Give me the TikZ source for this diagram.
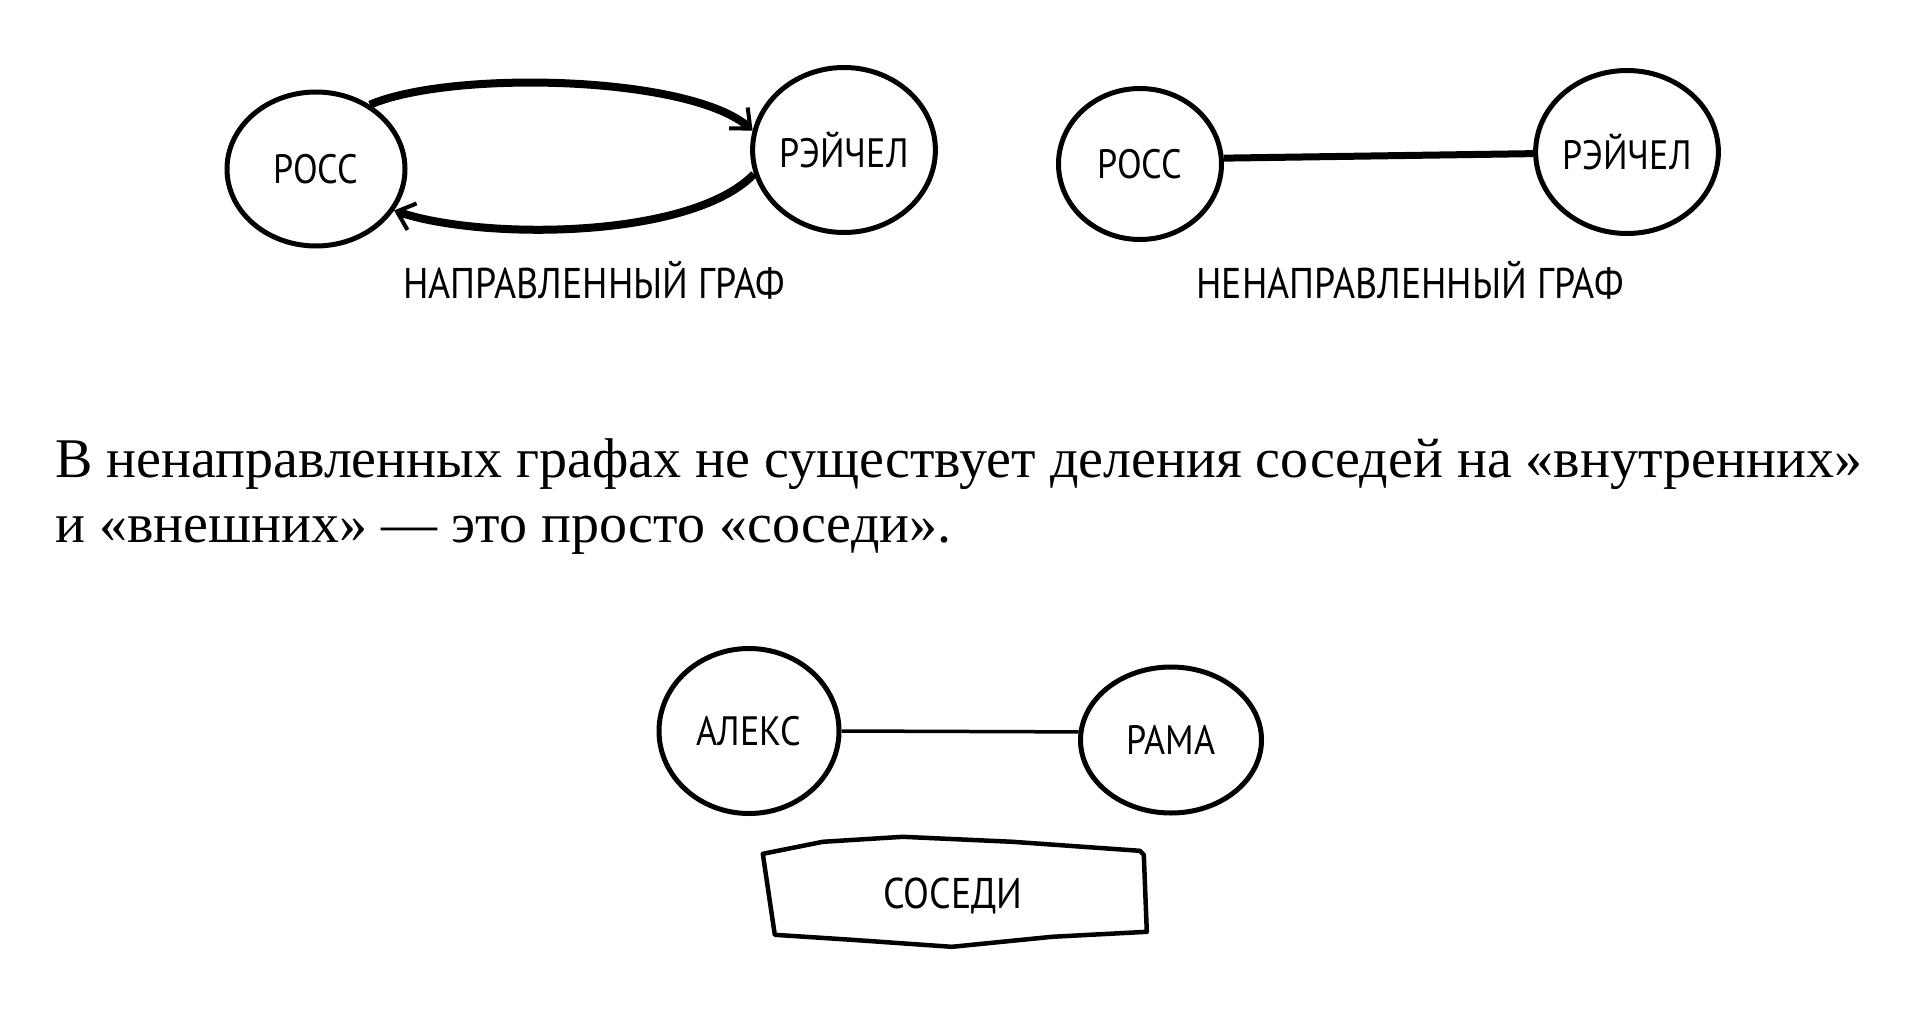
\documentclass[tikz,border=0pt]{standalone}
\usepackage{fontspec}
\setmainfont{Liberation Serif}
\newfontfamily\hand[FakeStretch=0.88]{PT Sans}
\usetikzlibrary{shapes.geometric,arrows.meta}
\tikzset{
  vert/.style={ellipse, draw, line width=5pt, inner sep=0pt, font=\hand\fontsize{41}{46}\selectfont},
  hlabel/.style={font=\hand\fontsize{43}{48}\selectfont, inner sep=0pt},
  arr/.style={line width=8pt, -{Straight Barb[length=16pt,width=28pt,line width=4pt]}},
  thickedge/.style={line width=7pt},
  thinedge/.style={line width=3.5pt},
  para/.style={font=\fontsize{56}{66}\selectfont, inner sep=0pt, anchor=base west},
}
\begin{document}
\begin{tikzpicture}[x=1pt,y=-1pt]
\useasboundingbox (0,0) rectangle (1916,1014);
% directed graph
\node[vert, minimum width=178pt, minimum height=154pt] (rossA) at (316,169) {РОСС};
\node[vert, minimum width=178pt, minimum height=165pt] (rachA) at (844,150) {РЭЙЧЕЛ};
\draw[arr] (rossA.50) .. controls (450,70) and (690,75) .. (rachA.168);
\draw[arr] (rachA.195) .. controls (690,240) and (480,240) .. (rossA.-28);
\node[hlabel] (labA) at (594,280) {НАПРАВЛЕННЫЙ ГРАФ};
% undirected graph
\node[vert, minimum width=163pt, minimum height=151pt] (rossB) at (1140,164) {РОСС};
\node[vert, minimum width=180pt, minimum height=163pt] (rachB) at (1627,152) {РЭЙЧЕЛ};
\draw[thickedge] (rossB.4) -- (rachB.181);
\node[hlabel] (labB) at (1410,280) {НЕНАПРАВЛЕННЫЙ ГРАФ};
% paragraph
\node[para] (p1) at (55,477) {В ненаправленных графах не существует деления соседей на «внутренних»};
\node[para] (p2) at (55,542) {и «внешних» — это просто «соседи».};
% neighbours
\node[vert, minimum width=180pt, minimum height=165pt] (alex) at (749,731) {АЛЕКС};
\node[vert, minimum width=181pt, minimum height=146pt] (rama) at (1171,740) {РАМА};
\draw[thinedge] (alex.east) -- (rama.175);
\node[hlabel, minimum width=384pt, minimum height=100pt] (sosedi) at (953,896) {СОСЕДИ};
\draw[line width=4.5pt, line join=round]
  (sosedi.north west) ++(2,8) -- ++(60,-12) -- ++(80,-5) -- ++(110,5) -- ++(127,9) -- ++(4,4)
  -- ++(3,77) -- ++(-95,5) -- ++(-100,10) -- ++(-100,-7) -- ++(-77,-5) -- cycle;
\end{tikzpicture}
\end{document}
